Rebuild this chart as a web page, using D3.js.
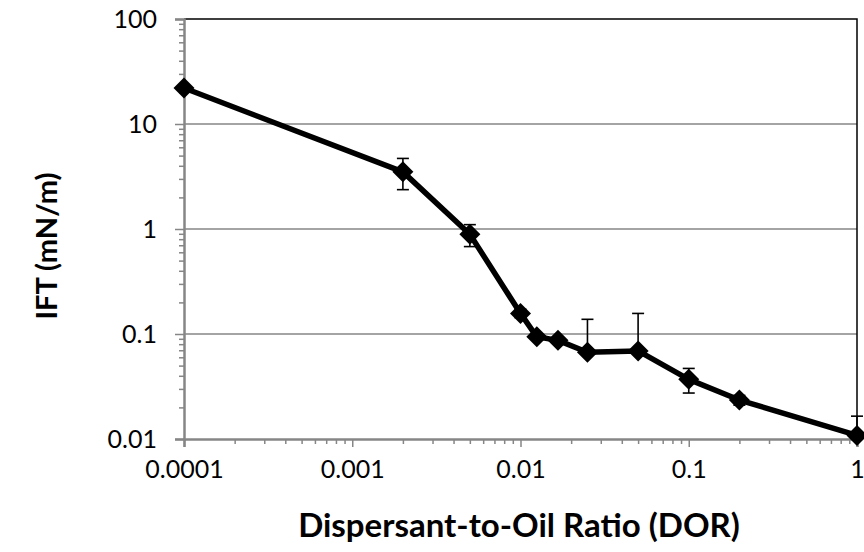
<!DOCTYPE html>
<html>
<head>
<meta charset="utf-8">
<script src="https://cdn.jsdelivr.net/npm/d3@7"></script>
<style>
  body { margin: 0; background: #fff; }
  text { font-family: Lato, "Open Sans", sans-serif; }
</style>
</head>
<body>
<script>
// DOR values and measured IFT (mN/m)
var dor = [0.0001, 0.002, 0.005, 0.01, 0.0125, 0.0167, 0.025, 0.05, 0.1, 0.2, 1];
var ift = [22, 3.5, 0.89, 0.157, 0.094, 0.087, 0.067, 0.069, 0.037, 0.0235, 0.0108];
// error bar ends (null = no whisker drawn)
var errHigh = [null, 4.7, 1.1, 0.172, null, null, 0.138, 0.157, 0.047, 0.026, 0.0165];
var errLow = [null, 2.37, 0.68, 0.143, null, null, null, null, 0.0274, 0.021, null];
var xTicks = [0.0001, 0.001, 0.01, 0.1, 1];
var yTicks = [0.01, 0.1, 1, 10, 100];

var width = 864, height = 552;
var margin = {left: 184, right: 7, top: 19, bottom: 113};

var x = d3.scaleLog().domain([0.0001, 1]).range([margin.left, width - margin.right]);
var y = d3.scaleLog().domain([0.01, 100]).range([height - margin.bottom, margin.top]);

var svg = d3.select("body").append("svg")
  .attr("width", width)
  .attr("height", height);

var axisColor = "#868686";

// minor ticks 2..9 in each decade
function minors(ticks) {
  var out = [];
  for (var i = 0; i < ticks.length - 1; i++) {
    for (var k = 2; k <= 9; k++) out.push(ticks[i] * k);
  }
  return out;
}

// gridlines
svg.append("g").selectAll("line")
  .data(yTicks.slice(1, -1))
  .enter().append("line")
  .attr("x1", margin.left).attr("x2", width - margin.right)
  .attr("y1", function (d) { return y(d); })
  .attr("y2", function (d) { return y(d); })
  .attr("stroke", axisColor).attr("stroke-width", 1.5);

// top and right border
svg.append("path")
  .attr("d", "M" + margin.left + "," + y(100) + "H" + x(1) + "V" + y(0.01))
  .attr("fill", "none").attr("stroke", "#000").attr("stroke-width", 1.5);

// x axis
var xAxis = svg.append("g")
  .attr("transform", "translate(0," + y(0.01) + ")");
xAxis.append("g")
  .call(d3.axisBottom(x).tickValues(minors(xTicks)).tickSize(5).tickFormat(""))
  .call(function (g) { g.select(".domain").remove(); })
  .selectAll("line").attr("stroke", axisColor).attr("stroke-width", 1.5);
xAxis.append("g")
  .call(d3.axisBottom(x).tickValues(xTicks).tickSize(8).tickPadding(13)
    .tickFormat(function (d) { return String(d); }))
  .call(function (g) {
    g.select(".domain").attr("stroke", axisColor).attr("stroke-width", 2.5);
    g.selectAll("line").attr("stroke", axisColor).attr("stroke-width", 1.5);
    g.selectAll("text").attr("font-size", 25).attr("fill", "#000")
      .attr("font-family", "Lato, sans-serif");
  });

// y axis
var yAxis = svg.append("g")
  .attr("transform", "translate(" + margin.left + ",0)");
yAxis.append("g")
  .call(d3.axisLeft(y).tickValues(minors(yTicks)).tickSize(5).tickFormat(""))
  .call(function (g) { g.select(".domain").remove(); })
  .selectAll("line").attr("stroke", axisColor).attr("stroke-width", 1.5);
yAxis.append("g")
  .call(d3.axisLeft(y).tickValues(yTicks).tickSize(9).tickPadding(18)
    .tickFormat(function (d) { return String(d); }))
  .call(function (g) {
    g.select(".domain").attr("stroke", axisColor).attr("stroke-width", 2.5);
    g.selectAll("line").attr("stroke", axisColor).attr("stroke-width", 1.5);
    g.selectAll("text").attr("font-size", 25).attr("fill", "#000")
      .attr("font-family", "Lato, sans-serif");
  });

// series line
var pts = dor.map(function (d, i) { return [d, ift[i]]; });
svg.append("path")
  .datum(pts)
  .attr("fill", "none")
  .attr("stroke", "#000")
  .attr("stroke-width", 5.5)
  .attr("stroke-linejoin", "round")
  .attr("d", d3.line()
    .x(function (d) { return x(d[0]); })
    .y(function (d) { return y(d[1]); }));

// error bars
var eb = svg.append("g").attr("stroke", "#000").attr("stroke-width", 1.6);
dor.forEach(function (d, i) {
  var cx = x(d);
  [errHigh[i], errLow[i]].forEach(function (e) {
    if (e == null) return;
    eb.append("line").attr("x1", cx).attr("x2", cx)
      .attr("y1", y(ift[i])).attr("y2", y(e));
    eb.append("line").attr("x1", cx - 6).attr("x2", cx + 6)
      .attr("y1", y(e)).attr("y2", y(e));
  });
});

// diamond markers
svg.append("g").selectAll("path")
  .data(pts)
  .enter().append("path")
  .attr("transform", function (d) { return "translate(" + x(d[0]) + "," + y(d[1]) + ")"; })
  .attr("d", "M0,-10.5L10.5,0L0,10.5L-10.5,0Z")
  .attr("fill", "#000");

// axis titles
svg.append("text")
  .attr("x", 519)
  .attr("y", 537)
  .attr("text-anchor", "middle")
  .attr("font-size", 33)
  .attr("font-weight", "bold")
  .text("Dispersant-to-Oil Ratio (DOR)");

svg.append("text")
  .attr("transform", "translate(47,246) rotate(-90)")
  .attr("dy", "0.35em")
  .attr("text-anchor", "middle")
  .attr("font-size", 29)
  .attr("font-weight", "bold")
  .text("IFT (mN/m)");
</script>
</body>
</html>
